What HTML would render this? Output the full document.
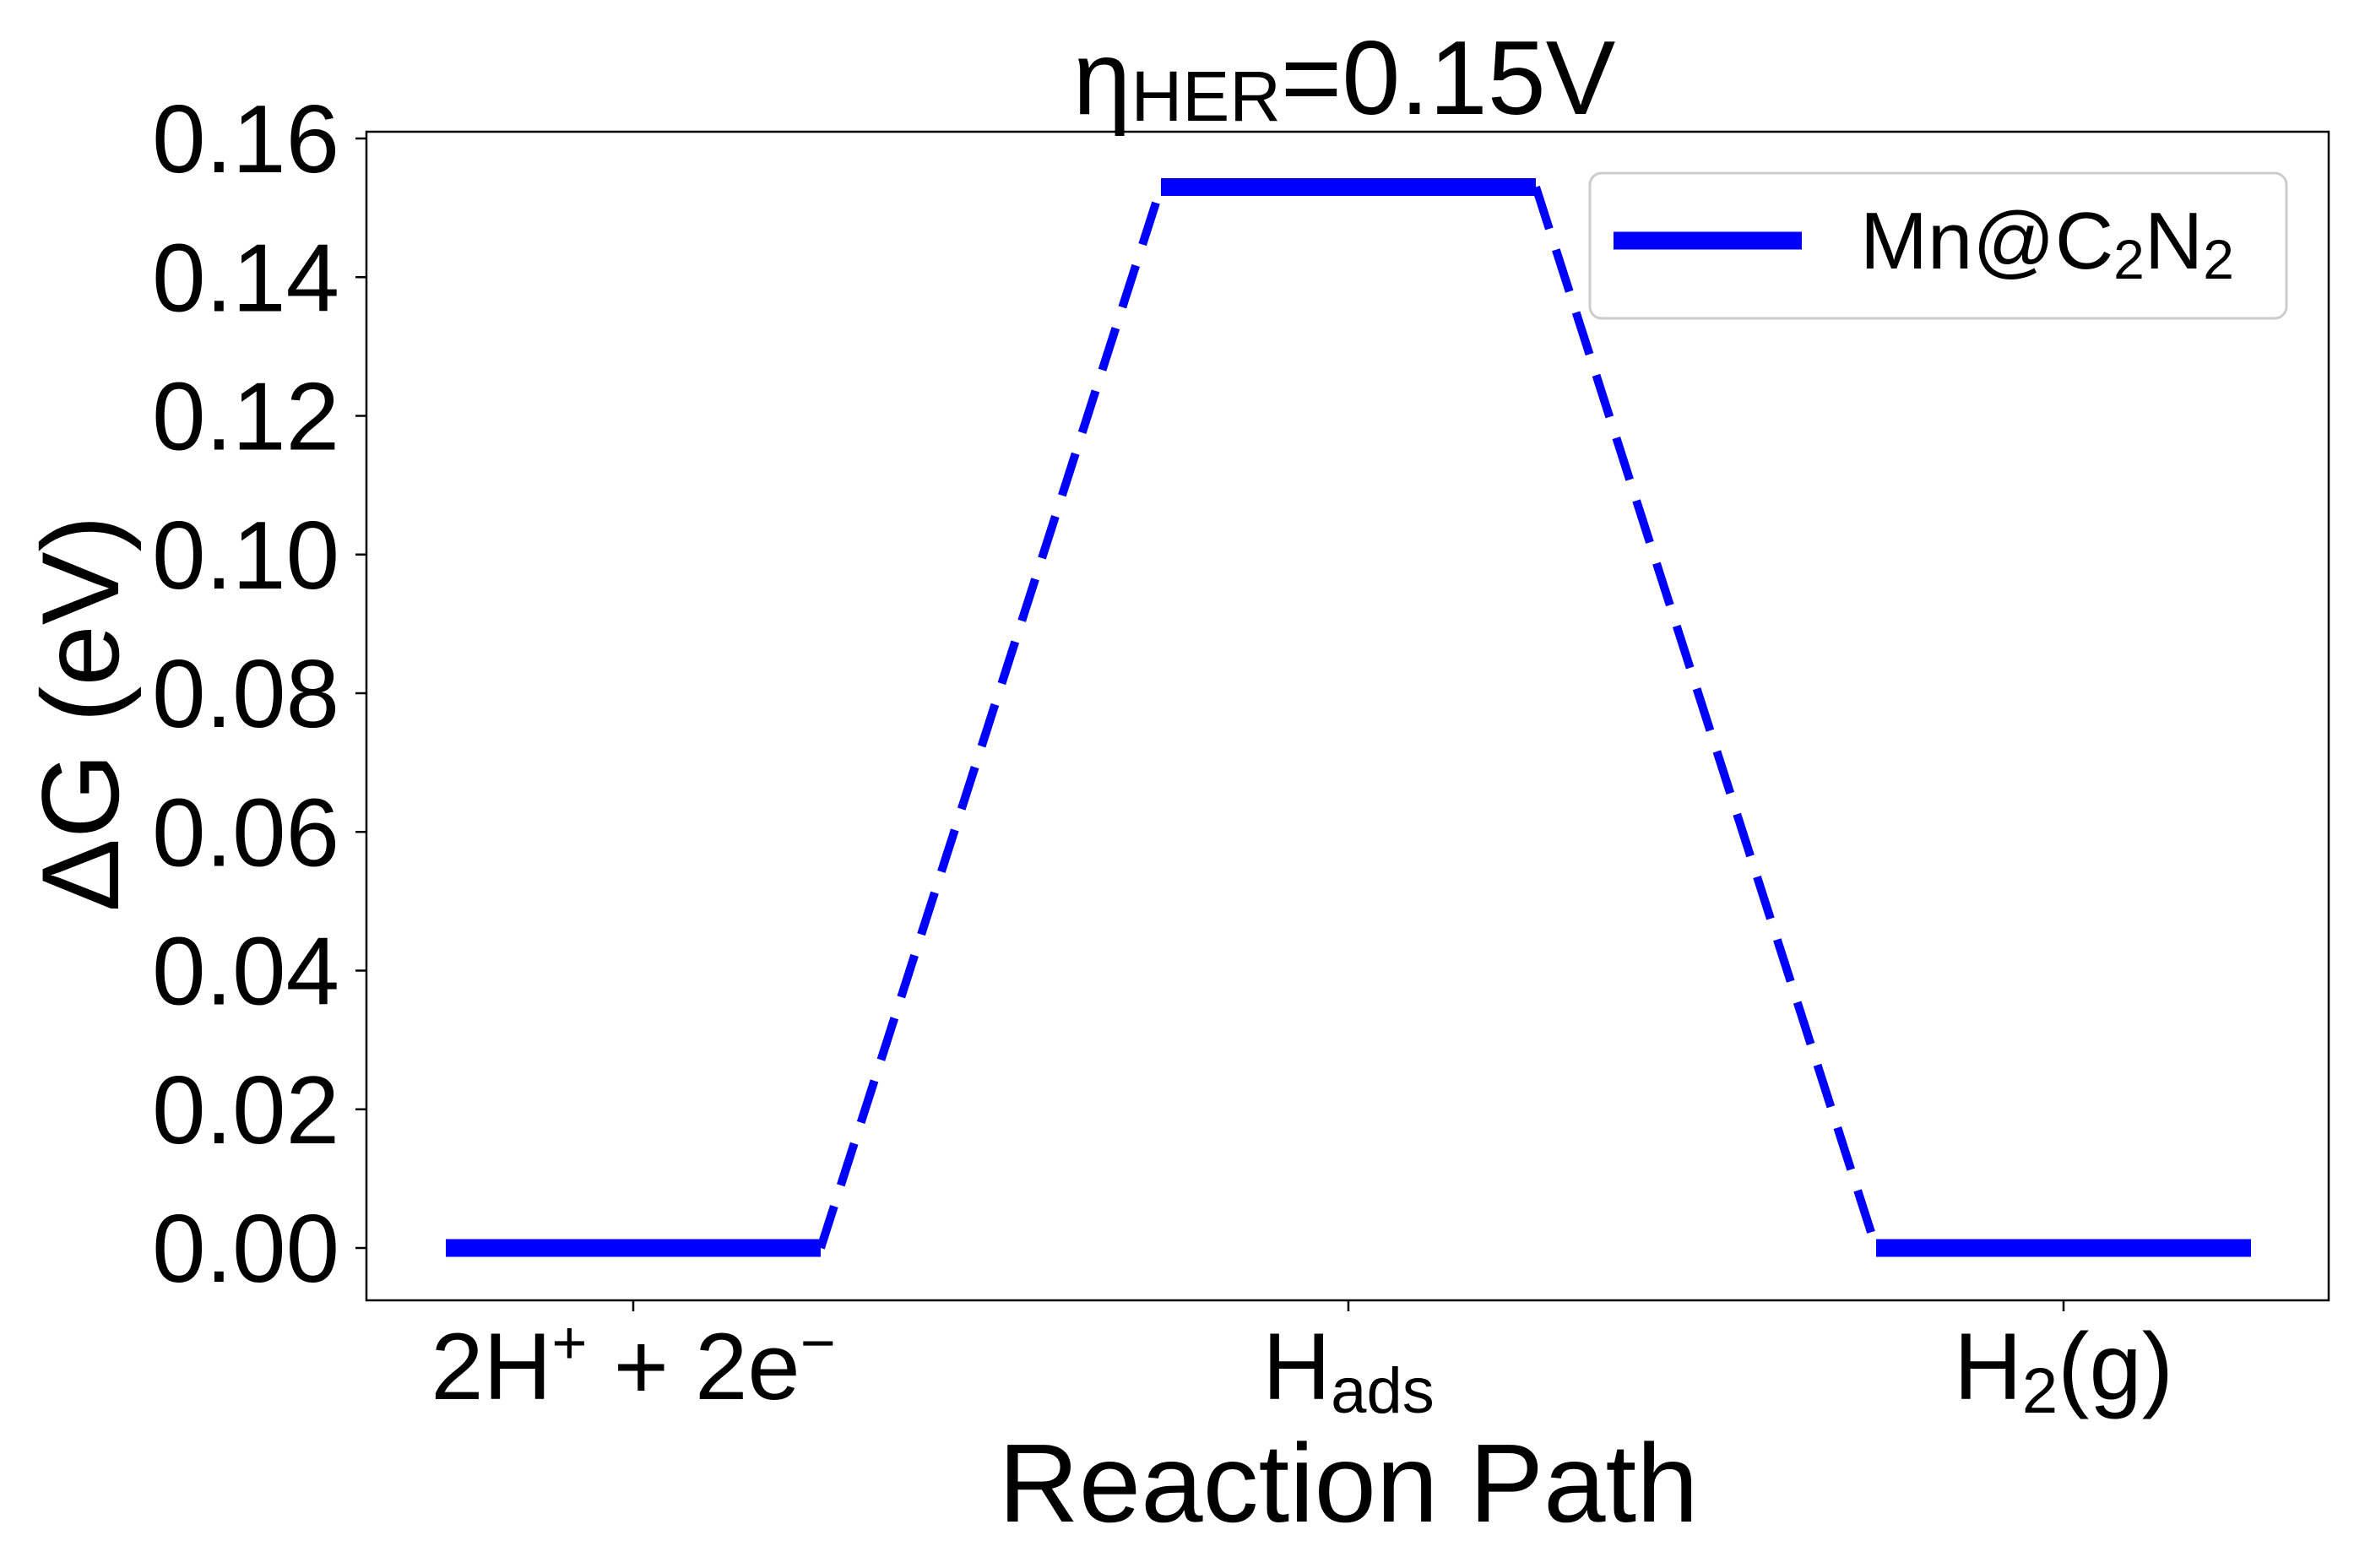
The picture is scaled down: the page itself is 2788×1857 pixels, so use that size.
<!DOCTYPE html>
<html><head><meta charset="utf-8"><style>
html,body{margin:0;padding:0;background:#fff}
svg{display:block;font-family:"Liberation Sans",Arial,sans-serif}
</style></head><body>
<svg id="chart" width="2788" height="1857" viewBox="0 0 2788 1857" xmlns="http://www.w3.org/2000/svg">
<rect width="2788" height="1857" fill="#fff"/>
<g id="plot"></g>
<text x="1592" y="135" font-size="124" text-anchor="middle">η<tspan font-size="84" dy="8">HER</tspan><tspan dy="-8">=0.15V</tspan></text>
<text x="1597" y="1802" font-size="132" text-anchor="middle">Reaction Path</text>
<text transform="translate(140,845) rotate(-90)" font-size="130" text-anchor="middle">ΔG (eV)</text>
<g>
<rect x="1883" y="205" width="825" height="172" rx="14" fill="#fff" stroke="#ccc" stroke-width="3"/>
<line x1="1911" y1="285" x2="2134" y2="285" stroke="#0000ff" stroke-width="21"/>
<text x="2203" y="318" font-size="96">Mn@C<tspan font-size="66" dy="12">2</tspan><tspan dy="-12">N</tspan><tspan font-size="66" dy="12">2</tspan></text>
</g>
</svg>
<script>
const categories = ["2H⁺+2e⁻", "H_ads", "H2(g)"];
const energies = [0.0, 0.153, 0.0];
const yTicks = [0.00, 0.02, 0.04, 0.06, 0.08, 0.10, 0.12, 0.14, 0.16];
const yTickLabels = ["0.00","0.02","0.04","0.06","0.08","0.10","0.12","0.14","0.16"];

const NS = "http://www.w3.org/2000/svg";
const g = document.getElementById('plot');
const L = 434, R = 2758, T = 156, B = 1540;
const xs = i => 750 + i * 847;
const ys = v => 1478 - v / 0.16 * 1314;
function mk(tag, attrs) { const e = document.createElementNS(NS, tag); for (const k in attrs) e.setAttribute(k, attrs[k]); g.appendChild(e); return e; }

for (let i = 0; i < energies.length - 1; i++) {
  const l = mk('line', {x1: xs(i) + 222, y1: ys(energies[i]), x2: xs(i + 1) - 222, y2: ys(energies[i + 1]), stroke: '#0000ff', 'stroke-width': 10, 'stroke-dasharray': '52 26'});
  
  
}
energies.forEach((v, i) => {
  const l = mk('line', {x1: xs(i) - 222, y1: ys(v), x2: xs(i) + 222, y2: ys(v), stroke: '#0000ff', 'stroke-width': 21});
  
  
});
const f = mk('rect', {x: L, y: T, width: R - L, height: B - T, fill: 'none', stroke: '#000', 'stroke-width': 2.5});


yTicks.forEach((v, i) => {
  const t = mk('line', {x1: L - 13, y1: ys(v), x2: L, y2: ys(v), stroke: '#000', 'stroke-width': 2.5});
  
  
  const tx = mk('text', {x: 402, y: ys(v) + 40, 'font-size': 114, 'text-anchor': 'end'});
  tx.textContent = yTickLabels[i];
  
  
});
categories.forEach((c, i) => {
  const t = mk('line', {x1: xs(i), y1: B, x2: xs(i), y2: B + 13, stroke: '#000', 'stroke-width': 2.5});
  
  
});
const lbl = [
  '2H<tspan font-size="72" dy="-42">+</tspan><tspan dy="42"> + 2e</tspan><tspan font-size="72" dy="-42">−</tspan>',
  'H<tspan font-size="76" dy="16">ads</tspan>',
  'H<tspan font-size="76" dy="16">2</tspan><tspan dy="-16">(g)</tspan>'
];
lbl.forEach((h, i) => {
  const tx = mk('text', {x: xs(i), y: 1657, 'font-size': 112, 'text-anchor': 'middle'});
  tx.innerHTML = h;
  
  
});
</script>
</body></html>
